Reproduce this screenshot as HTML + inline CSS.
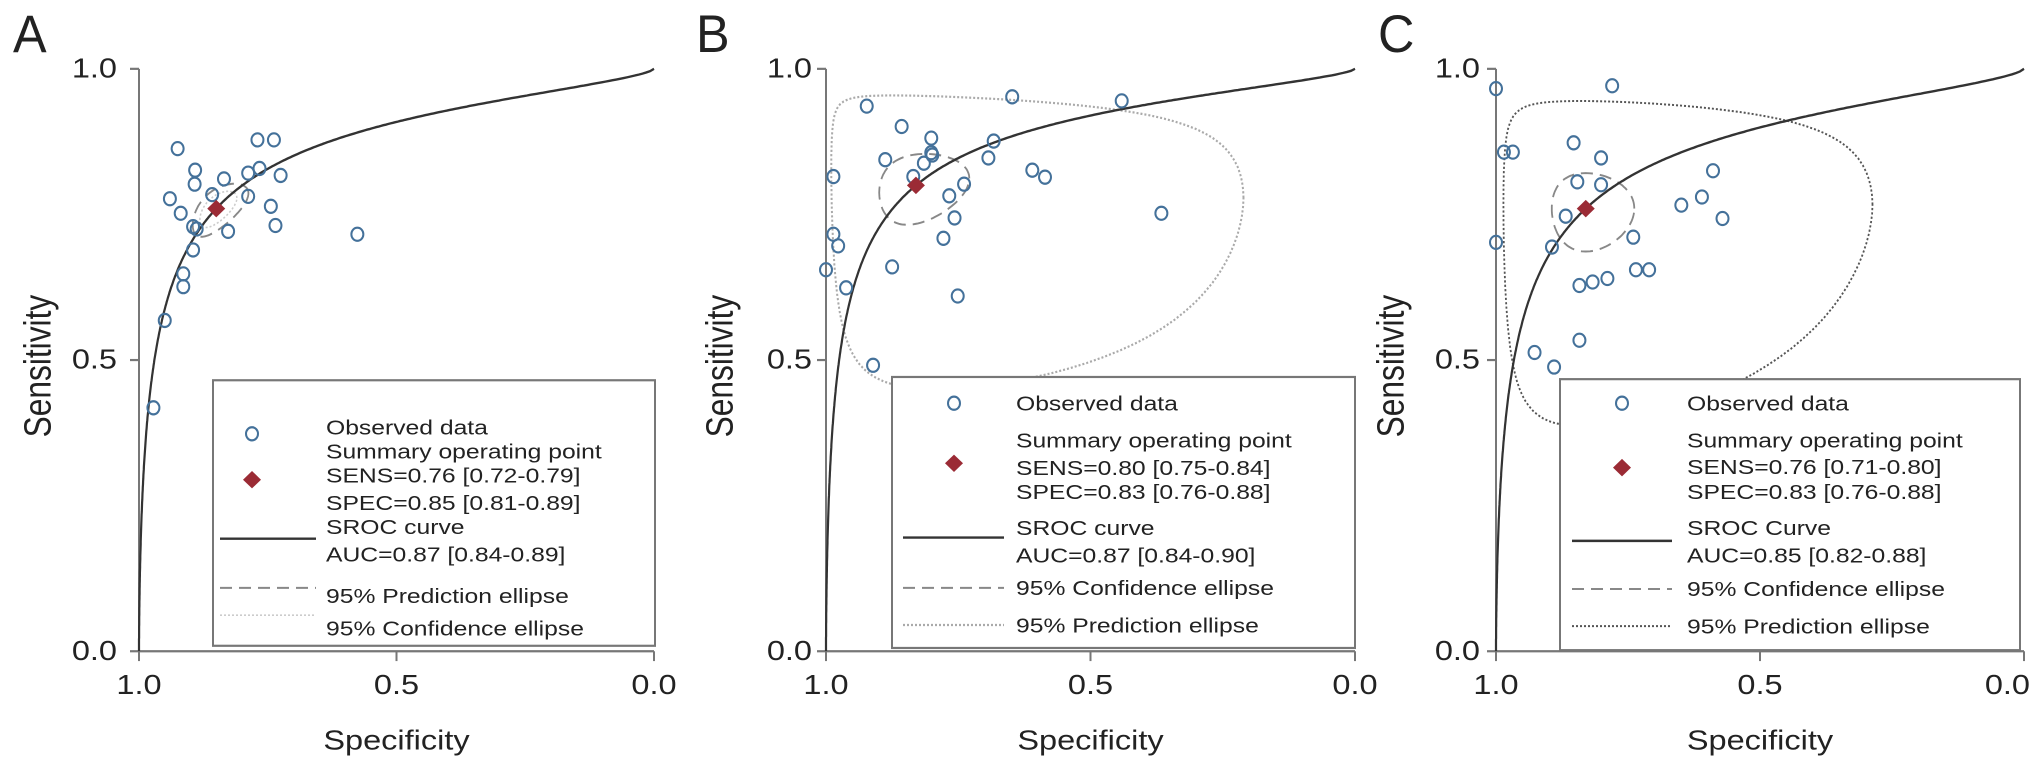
<!DOCTYPE html>
<html><head><meta charset="utf-8"><style>
html,body{margin:0;padding:0;background:#fff;}
svg{display:block;font-family:"Liberation Sans",Arial,sans-serif;}
</style></head><body>
<svg id="fig" width="2032" height="764" viewBox="0 0 2032 764" xmlns="http://www.w3.org/2000/svg"></svg>
<script>
// ---- data (spec, sens) per panel ----
const specA=[0.925,0.770,0.738,0.891,0.892,0.835,0.788,0.766,0.725,0.940,0.919,0.858,0.788,0.744,0.735,0.895,0.888,0.827,0.576,0.895,0.914,0.914,0.950,0.972];
const sensA=[0.863,0.878,0.878,0.826,0.802,0.811,0.821,0.829,0.817,0.777,0.752,0.784,0.781,0.764,0.731,0.729,0.725,0.721,0.716,0.689,0.648,0.626,0.568,0.418];
const specB=[0.923,0.648,0.441,0.857,0.801,0.801,0.799,0.683,0.888,0.815,0.693,0.986,0.835,0.739,0.610,0.586,0.767,0.757,0.366,0.986,0.977,0.778,1.0,0.875,0.962,0.751,0.911];
const sensB=[0.936,0.952,0.945,0.901,0.881,0.856,0.852,0.876,0.844,0.838,0.847,0.815,0.815,0.802,0.826,0.814,0.782,0.744,0.752,0.716,0.696,0.709,0.655,0.660,0.624,0.610,0.491];
const specC=[1.0,0.780,0.985,0.968,0.853,0.801,0.846,0.801,0.589,0.610,0.649,0.571,0.868,1.0,0.894,0.740,0.735,0.710,0.842,0.817,0.789,0.842,0.927,0.890];
const sensC=[0.966,0.971,0.857,0.857,0.873,0.847,0.806,0.801,0.825,0.780,0.766,0.743,0.747,0.702,0.694,0.711,0.655,0.655,0.628,0.634,0.640,0.534,0.513,0.488];
// summary points
const summarySpec=[0.85,0.83,0.83];
const summarySens=[0.76,0.80,0.76];
// SROC curve parameters: logit(sens)=alpha+beta*logit(1-spec)
const srocAlpha=[2.30,2.44,2.19];
const srocBeta=[0.661,0.665,0.654];
// ellipses in logit space
const dashCx=[-1.73,-1.59,-1.586], dashCy=[1.153,1.386,1.153], dashAx=[0.42,0.6,0.55], dashAy=[0.25,0.38,0.37], dashRho=[0.6,0.2,0.0];
const dotCx=[-1.73,-1.64,-1.67], dotCy=[1.153,1.42,1.19], dotAx=[0.28,2.96,2.58], dotAy=[0.17,1.62,1.65], dotRho=[0.6,-0.1,0.0];
const tickVals=[1.0,0.5,0.0];
const tickLabels=["1.0","0.5","0.0"];
const legendA=["Observed data","Summary operating point","SENS=0.76 [0.72-0.79]","SPEC=0.85 [0.81-0.89]","SROC curve","AUC=0.87 [0.84-0.89]","95% Prediction ellipse","95% Confidence ellipse"];
const legendB=["Observed data","Summary operating point","SENS=0.80 [0.75-0.84]","SPEC=0.83 [0.76-0.88]","SROC curve","AUC=0.87 [0.84-0.90]","95% Confidence ellipse","95% Prediction ellipse"];
const legendC=["Observed data","Summary operating point","SENS=0.76 [0.71-0.80]","SPEC=0.83 [0.76-0.88]","SROC Curve","AUC=0.85 [0.82-0.88]","95% Confidence ellipse","95% Prediction ellipse"];

const NS="http://www.w3.org/2000/svg";
const svg=document.getElementById('fig');
const root=document.createElementNS(NS,'g');
root.setAttribute('transform','scale(1,1.0927)');


svg.appendChild(root);
function el(tag,attrs,parent){const e=document.createElementNS(NS,tag);for(const k in attrs)e.setAttribute(k,attrs[k]);(parent||root).appendChild(e);return e;}
function txt(s,x,y,size,anchor,parent,rot,sx){
  const t=el('text',{'font-size':size,'text-anchor':anchor||'start','dominant-baseline':'central',fill:'#222',
    transform:'translate('+x+','+y+') scale('+(sx||1.3)+',1)'+(rot?' rotate(-90)':'')},parent);
  t.textContent=s;return t;}
const logit=p=>Math.log(p/(1-p)), inv=l=>1/(1+Math.exp(-l));

const panels=[
 {L:'A',x0:139,x1:654,y0:596,y1:63,spec:specA,sens:sensA,legend:legendA,lx:213,lw:442,ly:348,lh:243,letX:13,ytx:38,tickR:117,
  rows:[391,413,435,460,482,507,545,575],mark:252,line:[220,316],dashFirst:true,dotColor:'#ccc',dotW:1.5},
 {L:'B',x0:826,x1:1355,y0:596,y1:63,spec:specB,sens:sensB,legend:legendB,lx:892,lw:463,ly:345,lh:248,letX:696,ytx:720,tickR:812,
  rows:[369,403,428,450,483,508,538,572],mark:954,line:[903,1004],dashFirst:false,dotColor:'#aaa',dotW:2},
 {L:'C',x0:1496,x1:2024,y0:596,y1:63,spec:specC,sens:sensC,legend:legendC,lx:1560,lw:460,ly:347,lh:248,letX:1378,ytx:1391,tickR:1480,
  rows:[369,403,427,450,483,508,539,573],mark:1622,line:[1572,1672],dashFirst:false,dotColor:'#555',dotW:1.8}
];
const textX=[326,1016,1687];

panels.forEach((p,i)=>{
  const g=el('g',{});
  
  
  const X=s=>p.x0+(1-s)*(p.x1-p.x0);
  const Y=v=>p.y0-v*(p.y0-p.y1);
  const lt=txt(p.L,p.letX,31,48,'start',g,false,1.05);
  
  const ax=el('path',{d:'M'+p.x0+','+p.y1+' L'+p.x0+','+p.y0+' L'+p.x1+','+p.y0,stroke:'#777','stroke-width':2,fill:'none'},g);
  
  tickVals.forEach((v,k)=>{
    el('line',{x1:p.x0-9,x2:p.x0,y1:Y(v),y2:Y(v),stroke:'#777','stroke-width':2},g);
    el('line',{x1:X(v),x2:X(v),y1:p.y0,y2:p.y0+9,stroke:'#777','stroke-width':2},g);
    const ty=txt(tickLabels[k],p.tickR,Y(v),25,'end',g);
    
    const edge=X(v)>2000;
    const tx=txt(tickLabels[k],edge?2030:X(v),627,25,edge?'end':'middle',g);
    
  });
  const xt=txt('Specificity',(p.x0+p.x1)/2,678,25,'middle',g);
  
  const yt=txt('Sensitivity',p.ytx,335,29,'middle',g,true);
  
  function ell(cx,cy,a,b,r){let d='';for(let t=0;t<=360;t+=3){const th=t*Math.PI/180;
    const lf=cx+a*Math.cos(th), ls=cy+b*(r*Math.cos(th)+Math.sqrt(1-r*r)*Math.sin(th));
    d+=(t?'L':'M')+X(1-inv(lf)).toFixed(1)+','+Y(inv(ls)).toFixed(1);}return d+'Z';}
  const dot=el('path',{d:ell(dotCx[i],dotCy[i],dotAx[i],dotAy[i],dotRho[i]),fill:'none',stroke:p.dotColor,'stroke-width':p.dotW,'stroke-dasharray':'2,2'},g);
  
  const dash=el('path',{d:ell(dashCx[i],dashCy[i],dashAx[i],dashAy[i],dashRho[i]),fill:'none',stroke:'#888','stroke-width':1.8,'stroke-dasharray':'12,7'},g);
  
  let d='';let first=true;
  for(let k=0;k<=400;k++){const f=Math.pow(k/400,3); const ff=Math.min(Math.max(f,1e-7),1-1e-7);
    const se=inv(srocAlpha[i]+srocBeta[i]*logit(ff));
    d+=(first?'M':'L')+X(1-ff).toFixed(1)+','+Y(se).toFixed(1);first=false;}
  const cur=el('path',{d:d,fill:'none',stroke:'#333','stroke-width':2.2},g);
  
  p.spec.forEach((s,k)=>{
    const c=el('circle',{cx:X(s),cy:Y(p.sens[k]),r:6,fill:'none',stroke:'#44719a','stroke-width':2},g);
    
    
  });
  const sx=X(summarySpec[i]), sy=Y(summarySens[i]);
  const dm=el('path',{d:`M${sx-9},${sy} L${sx},${sy-8} L${sx+9},${sy} L${sx},${sy+8}Z`,fill:'#9b2b35'},g);
  
  const lg=el('g',{},g);
  
  el('rect',{x:p.lx,y:p.ly,width:p.lw,height:p.lh,fill:'#fff',stroke:'#777','stroke-width':2},lg);
  p.legend.forEach((s,k)=>{const t=txt(s,textX[i],p.rows[k],19,'start',lg);
    });
  el('circle',{cx:p.mark,cy:i==0?397:p.rows[0],r:6,fill:'none',stroke:'#44719a','stroke-width':2},lg);
  const my=i==0?439:(i==1?424:428);
  el('path',{d:`M${p.mark-9},${my} L${p.mark},${my-8} L${p.mark+9},${my} L${p.mark},${my+8}Z`,fill:'#9b2b35'},lg);
  const lyS=i==0?493:(i==1?492:495);
  el('line',{x1:p.line[0],x2:p.line[1],y1:lyS,y2:lyS,stroke:'#333','stroke-width':2.2},lg);
  const yDash=p.dashFirst?538:p.rows[6], yDot=p.dashFirst?563:p.rows[7];
  el('line',{x1:p.line[0],x2:p.line[1],y1:yDash,y2:yDash,stroke:'#888','stroke-width':1.8,'stroke-dasharray':'12,7'},lg);
  el('line',{x1:p.line[0],x2:p.line[1],y1:yDot,y2:yDot,stroke:p.dotColor,'stroke-width':p.dotW,'stroke-dasharray':'2,2'},lg);
});
</script>
</body></html>
